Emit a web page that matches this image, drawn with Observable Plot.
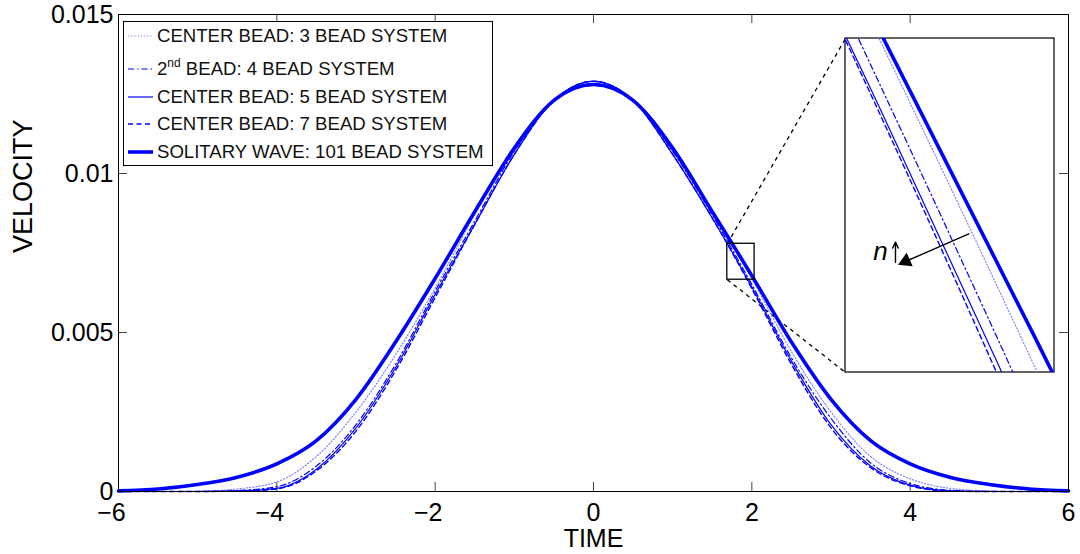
<!DOCTYPE html>
<html>
<head>
<meta charset="utf-8">
<script src="https://cdn.jsdelivr.net/npm/d3@7"></script>
<script src="https://cdn.jsdelivr.net/npm/@observablehq/plot@0.6"></script>
<style>
  html, body { margin: 0; padding: 0; background: #fff; }
  #chart { position: relative; width: 1080px; height: 554px; font-family: "Liberation Sans", Arial, sans-serif; overflow: hidden; }
  #chart svg { display: block; }
</style>
</head>
<body>
<div id="chart"></div>
<script>
// ---------------- DATA ----------------
const time = [-6, -5.5, -5, -4.5, -4, -3.5, -3, -2.5, -2, -1.5, -1, -0.5, 0, 0.5, 1, 1.5, 1.75, 2, 2.5, 3, 3.5, 4, 4.5, 5, 5.5, 6];
const bead3 = [0, 0, 0.00001, 0.00008, 0.0003, 0.0011, 0.0025, 0.0043, 0.0064, 0.0087, 0.0107, 0.0123, 0.0129, 0.0123, 0.0107, 0.0088, 0.00777, 0.00669, 0.0044, 0.0025, 0.0011, 0.0004, 0.0001, 0.00002, 0, 0];
const bead4 = [0, 0, 0, 0.00003, 0.00015, 0.0008, 0.0021, 0.0040, 0.0063, 0.0085, 0.0107, 0.0123, 0.0129, 0.0123, 0.0107, 0.0087, 0.00762, 0.00651, 0.0042, 0.0023, 0.0009, 0.00025, 0.00004, 0, 0, 0];
const bead5 = [0, 0, 0, 0.00002, 0.0001, 0.0007, 0.0020, 0.0039, 0.0062, 0.0084, 0.0106, 0.0123, 0.0129, 0.0123, 0.0106, 0.0086, 0.00754, 0.00643, 0.0041, 0.0021, 0.0008, 0.0002, 0.00002, 0, 0, 0];
const bead7 = [0, 0, 0, 0.00001, 0.00008, 0.00065, 0.0019, 0.0038, 0.0061, 0.0084, 0.0106, 0.0123, 0.0129, 0.0123, 0.0106, 0.0086, 0.00752, 0.00638, 0.0040, 0.0020, 0.00075, 0.00018, 0.00001, 0, 0, 0];
const wave101 = [0.00002, 0.00008, 0.00022, 0.00045, 0.00087, 0.0016, 0.0029, 0.0047, 0.0067, 0.0088, 0.0108, 0.0123, 0.0128, 0.0123, 0.0108, 0.0088, 0.0078, 0.00679, 0.0047, 0.0029, 0.0016, 0.00087, 0.00045, 0.00022, 0.00008, 0.00002];

const seriesKeys = ["b3", "b4", "b5", "b7", "w101"];
const seriesValues = [bead3, bead4, bead5, bead7, wave101];
const legendLabels = ["CENTER BEAD: 3 BEAD SYSTEM", "2|nd| BEAD: 4 BEAD SYSTEM", "CENTER BEAD: 5 BEAD SYSTEM", "CENTER BEAD: 7 BEAD SYSTEM", "SOLITARY WAVE: 101 BEAD SYSTEM"];

const xTicks = [-6, -4, -2, 0, 2, 4, 6];
const yTicks = [0, 0.005, 0.01, 0.015];
const xLabel = "TIME";
const yLabel = "VELOCITY";

// zoom window (data) and inset placement (data coords of main chart)
const zoomX = [1.69, 2.035];
const zoomY = [0.00666, 0.00779];
const insetX = [3.183, 5.823];
const insetY = [0.003742, 0.014245];

// inset annotation (in zoom-window data coords)
const normalArrow = [{t1: 1.8935, v1: 0.007129, t2: 1.7862, v2: 0.007033}];
const nLabel = [{t: 1.7478, v: 0.007069, text: "n"}];
const nArrow = [{t1: 1.7725, v1: 0.007033, t2: 1.7725, v2: 0.007101}];

// ---------------- STYLES ----------------
const styles = {
  b3:   {stroke: "#7878ff", strokeWidth: 1.1, strokeDasharray: "1.2,2"},
  b4:   {stroke: "#0000ff", strokeWidth: 1.2, strokeDasharray: "6,3,1.5,3"},
  b5:   {stroke: "#0000ff", strokeWidth: 1.2},
  b7:   {stroke: "#0000ff", strokeWidth: 1.4, strokeDasharray: "5,3.5"},
  w101: {stroke: "#0000ff", strokeWidth: 3.6}
};

const rows = [];
seriesKeys.forEach((k, i) => time.forEach((t, j) => rows.push({key: k, t, v: seriesValues[i][j]})));

function lineMarks(extra = {}) {
  return seriesKeys.map(k => Plot.line(rows.filter(d => d.key === k), {
    x: "t", y: "v", curve: "monotone-x", ...styles[k], ...extra
  }));
}

const W = 1080, H = 554, mL = 118, mR = 12, mT = 14, mB = 63;
const frameW = W - mL - mR, frameH = H - mT - mB, tickLen = 9;
const font = "Liberation Sans, Arial, sans-serif";
const fmtX = d3.format("d");

const main = Plot.plot({
  width: W, height: H,
  marginLeft: mL, marginRight: mR, marginTop: mT, marginBottom: mB,
  style: {fontFamily: font, background: "white", color: "black"},
  x: {domain: [-6, 6]},
  y: {domain: [0, 0.015]},
  marks: [
    // ticks inside on all four sides
    Plot.ruleX(xTicks, {x: d => d, insetTop: frameH - tickLen, stroke: "#444"}),
    Plot.ruleX(xTicks, {x: d => d, insetBottom: frameH - tickLen, stroke: "#444"}),
    Plot.ruleY(yTicks, {y: d => d, insetRight: frameW - tickLen, stroke: "#444"}),
    Plot.ruleY(yTicks, {y: d => d, insetLeft: frameW - tickLen, stroke: "#444"}),
    // negative labels: digit centred on the tick, minus sign hangs left
    Plot.axisX({ticks: xTicks.filter(d => d < 0), tickSize: 0, tickPadding: 12, fontSize: 25, tickFormat: fmtX, dx: -7, label: null}),
    Plot.axisX({ticks: xTicks.filter(d => d >= 0), tickSize: 0, tickPadding: 12, fontSize: 25, tickFormat: fmtX, label: null}),
    Plot.axisY({ticks: yTicks, tickSize: 0, tickPadding: 5, fontSize: 25, tickFormat: d => String(d), label: null}),
    Plot.text([xLabel], {text: d => d, frameAnchor: "bottom", dy: 55, fontSize: 25}),
    Plot.text([yLabel], {text: d => d, frameAnchor: "left", dx: -95, rotate: -90, fontSize: 27}),
    // connectors and boxes
    Plot.link([{x1: zoomX[0], y1: zoomY[1], x2: insetX[0], y2: insetY[1]}, {x1: zoomX[0], y1: zoomY[0], x2: insetX[0], y2: insetY[0]}],
      {x1: "x1", y1: "y1", x2: "x2", y2: "y2", stroke: "black", strokeWidth: 1.3, strokeDasharray: "4,4"}),
    Plot.rect([{x1: insetX[0], x2: insetX[1], y1: insetY[0], y2: insetY[1]}], {x1: "x1", x2: "x2", y1: "y1", y2: "y2", fill: "white", stroke: "black", strokeWidth: 1.2}),
    ...lineMarks(),
    Plot.rect([{x1: zoomX[0], x2: zoomX[1], y1: zoomY[0], y2: zoomY[1]}], {x1: "x1", x2: "x2", y1: "y1", y2: "y2", fill: "none", stroke: "black", strokeWidth: 1.3}),
    Plot.frame({stroke: "black"})
  ]
});

const chart = document.getElementById("chart");
chart.appendChild(main);

// ---------------- INSET ----------------
const xs = main.scale("x"), ys = main.scale("y");
const iL = xs.apply(insetX[0]), iR = xs.apply(insetX[1]);
const iT = ys.apply(insetY[1]), iB = ys.apply(insetY[0]);

const inset = Plot.plot({
  width: iR - iL, height: iB - iT,
  marginLeft: 0, marginRight: 0, marginTop: 0, marginBottom: 0,
  style: {background: "transparent", overflow: "hidden", fontFamily: font},
  x: {domain: zoomX, axis: null},
  y: {domain: zoomY, axis: null},
  marks: [
    ...lineMarks({clip: true}),
    Plot.arrow(normalArrow, {x1: "t1", y1: "v1", x2: "t2", y2: "v2", stroke: "black", strokeWidth: 1.4, headLength: 0}),
    Plot.dot(normalArrow, {x: "t2", y: "v2", symbol: "triangle", r: 5.5, fill: "black", rotate: 246, dx: 2, dy: -1}),
    Plot.arrow(nArrow, {x1: "t1", y1: "v1", x2: "t2", y2: "v2", stroke: "black", strokeWidth: 1.4, headLength: 7, headAngle: 50}),
    Plot.text(nLabel, {x: "t", y: "v", text: "text", fontSize: 26, fontStyle: "italic", fill: "black"})
  ]
});
inset.style.position = "absolute";
inset.style.left = iL + "px";
inset.style.top = iT + "px";
chart.appendChild(inset);

// ---------------- LEGEND ----------------
const legend = document.createElement("div");
legend.style.cssText = "position:absolute;left:123px;top:21px;width:370px;height:145px;box-sizing:border-box;border:1px solid #000;background:#fff;";
const rowCenters = [14.3, 47.3, 75.3, 102, 130.3];
seriesKeys.forEach((k, i) => {
  const row = document.createElement("div");
  row.style.cssText = `position:absolute;left:0;top:${rowCenters[i] - 12}px;height:24px;width:100%;`;
  const s = styles[k];
  const svgNS = "http://www.w3.org/2000/svg";
  const svg = document.createElementNS(svgNS, "svg");
  svg.setAttribute("width", 26); svg.setAttribute("height", 24);
  svg.style.cssText = "position:absolute;left:4px;top:0;";
  const ln = document.createElementNS(svgNS, "line");
  ln.setAttribute("x1", 0); ln.setAttribute("x2", 25); ln.setAttribute("y1", 12); ln.setAttribute("y2", 12);
  ln.setAttribute("stroke", s.stroke); ln.setAttribute("stroke-width", s.strokeWidth);
  if (s.strokeDasharray) ln.setAttribute("stroke-dasharray", s.strokeDasharray);
  svg.appendChild(ln);
  row.appendChild(svg);
  const txt = document.createElement("div");
  txt.style.cssText = "position:absolute;left:33px;top:0;height:24px;line-height:24px;font-size:18.6px;white-space:nowrap;color:#111;";
  const parts = legendLabels[i].split("|");
  parts.forEach((p, j) => {
    if (j % 2 === 1) {
      const sup = document.createElement("span");
      sup.textContent = p;
      sup.style.cssText = "font-size:12px;position:relative;top:-8px;";
      txt.appendChild(sup);
    } else txt.appendChild(document.createTextNode(p));
  });
  row.appendChild(txt);
  legend.appendChild(row);
});
chart.appendChild(legend);
</script>
</body>
</html>
